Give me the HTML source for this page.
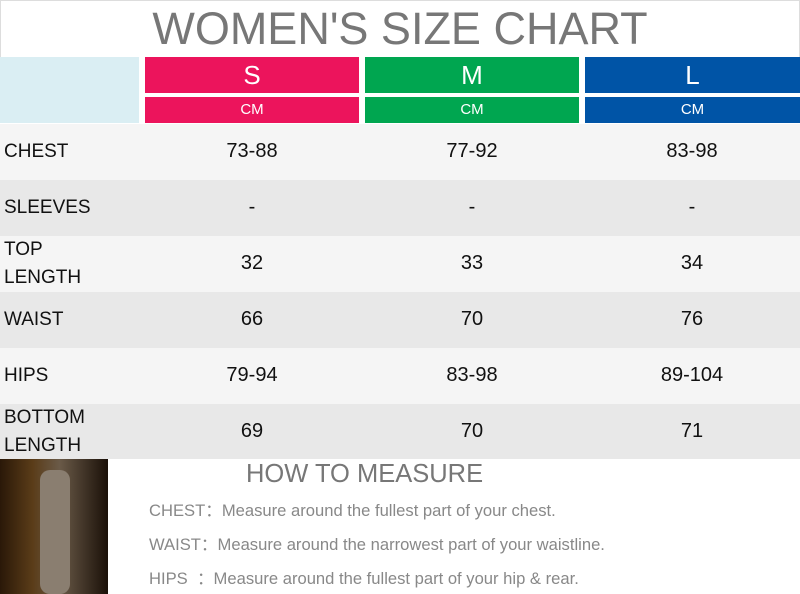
<!DOCTYPE html><html><head><style>
body{margin:0;width:800px;height:594px;background:#fff;position:relative;overflow:hidden;font-family:"Liberation Sans",sans-serif}
div{position:absolute;box-sizing:border-box}
.t{left:0;width:800px;top:0;height:57px;text-align:center;font-size:45px;color:#777;line-height:56px;border:1px solid #ddd;border-bottom:none}
.h{color:#fff;text-align:center}
.r{left:0;width:800px;height:56px;font-size:20px;color:#111}
.r span{position:absolute;text-align:center;width:214px;top:16px}
.lab{position:absolute;left:4px;font-size:19px;line-height:28px}
.m{left:149px;font-size:16.6px;color:#888}
</style></head><body>
<div class="t">WOMEN'S SIZE CHART</div>
<div style="left:0;top:57px;width:139px;height:66px;background:#daeef3"></div>
<div class="h" style="left:145px;top:57px;width:214px;height:36px;background:#ec145c;font-size:26px;line-height:36px">S</div>
<div class="h" style="left:145px;top:97px;width:214px;height:26px;background:#ec145c;font-size:15px;line-height:26px">CM</div>
<div class="h" style="left:365px;top:57px;width:214px;height:36px;background:#00a650;font-size:26px;line-height:36px">M</div>
<div class="h" style="left:365px;top:97px;width:214px;height:26px;background:#00a650;font-size:15px;line-height:26px">CM</div>
<div class="h" style="left:585px;top:57px;width:215px;height:36px;background:#0054a6;font-size:26px;line-height:36px">L</div>
<div class="h" style="left:585px;top:97px;width:215px;height:26px;background:#0054a6;font-size:15px;line-height:26px">CM</div>

<div class="r" style="top:124px;background:#f5f5f5"><i class="lab" style="font-style:normal;top:14px">CHEST</i><span style="left:145px">73-88</span><span style="left:365px">77-92</span><span style="left:585px">83-98</span></div>
<div class="r" style="top:180px;background:#e8e8e8"><i class="lab" style="font-style:normal;top:14px">SLEEVES</i><span style="left:145px">-</span><span style="left:365px">-</span><span style="left:585px">-</span></div>
<div class="r" style="top:236px;background:#f5f5f5"><i class="lab" style="font-style:normal;top:0px">TOP<br>LENGTH</i><span style="left:145px">32</span><span style="left:365px">33</span><span style="left:585px">34</span></div>
<div class="r" style="top:292px;background:#e8e8e8"><i class="lab" style="font-style:normal;top:14px">WAIST</i><span style="left:145px">66</span><span style="left:365px">70</span><span style="left:585px">76</span></div>
<div class="r" style="top:348px;background:#f5f5f5"><i class="lab" style="font-style:normal;top:14px">HIPS</i><span style="left:145px">79-94</span><span style="left:365px">83-98</span><span style="left:585px">89-104</span></div>
<div class="r" style="top:404px;background:#e8e8e8;height:55px"><i class="lab" style="font-style:normal;top:0px">BOTTOM<br>LENGTH</i><span style="left:145px">69</span><span style="left:365px">70</span><span style="left:585px">71</span></div>

<div style="left:0;top:459px;width:108px;height:135px;background:linear-gradient(90deg,#2a1808 0%,#5a3c18 30%,#6a5a48 55%,#1a1008 100%)"></div>
<div style="left:40px;top:470px;width:30px;height:124px;background:#8a7e70;border-radius:10px"></div>
<div style="left:246px;top:457px;font-size:25.5px;color:#777;line-height:34px">HOW TO MEASURE</div>
<div class="m" style="top:497px">CHEST：Measure around the fullest part of your chest.</div>
<div class="m" style="top:531px">WAIST：Measure around the narrowest part of your waistline.</div>
<div class="m" style="top:565px">HIPS &nbsp;：Measure around the fullest part of your hip &amp; rear.</div>
</body></html>
